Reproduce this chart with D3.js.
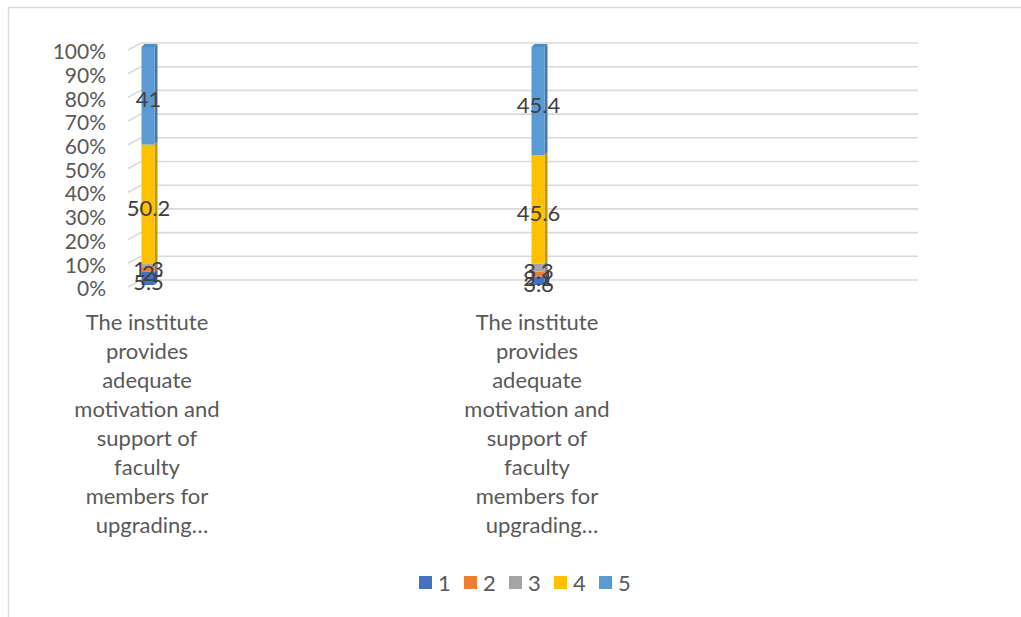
<!DOCTYPE html>
<html><head><meta charset="utf-8">
<script src="https://cdn.jsdelivr.net/npm/d3@7"></script>
<style>html,body{margin:0;padding:0;background:#fff;}svg{display:block;}</style>
</head><body><svg id="chart" width="1021" height="617"></svg>
<script>
const categoryLines = [
  ["The institute","provides","adequate","motivation and","support of","faculty","members for","upgrading…"],
  ["The institute","provides","adequate","motivation and","support of","faculty","members for","upgrading…"]
];
const seriesNames = ["1","2","3","4","5"];
const seriesColors = ["#4472C4","#ED7D31","#A5A5A5","#FFC000","#5B9BD5"];
const series1 = [5.5, 3.6];
const series2 = [2.0, 2.1];
const series3 = [1.3, 3.3];
const series4 = [50.2, 45.6];
const series5 = [41, 45.4];
const tickValues = [0,10,20,30,40,50,60,70,80,90,100];

const FONT = "Lato, 'Open Sans', sans-serif";
const TXT = "#595959";
const svg = d3.select("#chart");

// border (cropped chart frame)
svg.append("path").attr("d","M8.5,617 V7.5 H1021").attr("fill","none").attr("stroke","#d9d9d9").attr("stroke-width",1.5);

const yFront = d3.scaleLinear().domain([0,100]).range([287,50]);
const depthX = 13, depthY = 7;
const plotLeft = 128, plotRight = 918;

// gridlines (back wall + side wall stubs)
const g = svg.append("g");
tickValues.forEach(v => {
  const yf = yFront(v), yb = yf - depthY;
  g.append("path")
   .attr("d", `M${plotLeft},${yf} L${plotLeft+depthX},${yb} H${plotRight}`)
   .attr("fill","none").attr("stroke","#d9d9d9").attr("stroke-width",1.6);
});

// y axis labels
const yAxis = d3.axisLeft(yFront).tickValues(tickValues).tickFormat(d => d + "%").tickSize(0).tickPadding(0);
const ya = svg.append("g").attr("transform","translate(106,2)").call(yAxis);
ya.select(".domain").remove();
ya.selectAll("text").attr("font-family",FONT).attr("font-size",21).attr("fill",TXT);

// bars
const allSeries = [series1, series2, series3, series4, series5];
const x = d3.scalePoint().domain(d3.range(categoryLines.length)).range([148, 538]);
const yBar = d3.scaleLinear().domain([0,100]).range([285,47]);
const bw = 13, sd = 3;
const stacked = d3.stack().keys(d3.range(5))(d3.range(categoryLines.length).map(i => {
  const o = {}; allSeries.forEach((s,k) => o[k] = s[i]); return o;
}));
const bars = svg.append("g");
stacked.forEach((layer, k) => {
  layer.forEach((seg, i) => {
    const x0 = x(i) - bw/2, y0 = yBar(seg[0]), y1 = yBar(seg[1]);
    const col = d3.color(seriesColors[k]);
    bars.append("path")
      .attr("d", `M${x0+bw},${y0} L${x0+bw+sd},${y0-sd} L${x0+bw+sd},${y1-sd} L${x0+bw},${y1} Z`)
      .attr("fill", col.darker(0.7));
    bars.append("rect").attr("x", x0).attr("y", y1).attr("width", bw).attr("height", Math.max(0, y0-y1))
      .attr("fill", col);
    if (k === 4) {
      bars.append("path")
        .attr("d", `M${x0},${y1} L${x0+sd},${y1-sd} L${x0+bw+sd},${y1-sd} L${x0+bw},${y1} Z`)
        .attr("fill", col.darker(0.3));
    }
  });
});

// data labels
const labels = svg.append("g");
stacked.forEach((layer, k) => {
  layer.forEach((seg, i) => {
    const v = allSeries[k][i];
    labels.append("text")
      .attr("x", x(i) + 0.5)
      .attr("y", yBar((seg[0]+seg[1])/2) + 4)
      .attr("dy","0.35em")
      .attr("text-anchor","middle")
      .attr("font-family",FONT).attr("font-size",22).attr("fill","#404040")
      .text(v);
  });
});

// category labels
categoryLines.forEach((lines, i) => {
  const t = svg.append("text").attr("text-anchor","middle")
    .attr("font-family",FONT).attr("font-size",22).attr("fill",TXT);
  lines.forEach((ln, j) => {
    t.append("tspan").attr("x", x(i) - 1 + (j === lines.length - 1 ? 5 : 0))
      .attr("y", 322 + j*29).attr("dy","0.35em").text(ln);
  });
});

// legend
const legend = svg.append("g");
seriesNames.forEach((n, k) => {
  const lx = 419 + k*45;
  legend.append("rect").attr("x", lx).attr("y", 576).attr("width", 13).attr("height", 13).attr("fill", seriesColors[k]);
  legend.append("text").attr("x", lx + 19).attr("y", 583).attr("dy","0.35em")
    .attr("font-family",FONT).attr("font-size",22).attr("fill",TXT).text(n);
});
</script>
</body></html>
